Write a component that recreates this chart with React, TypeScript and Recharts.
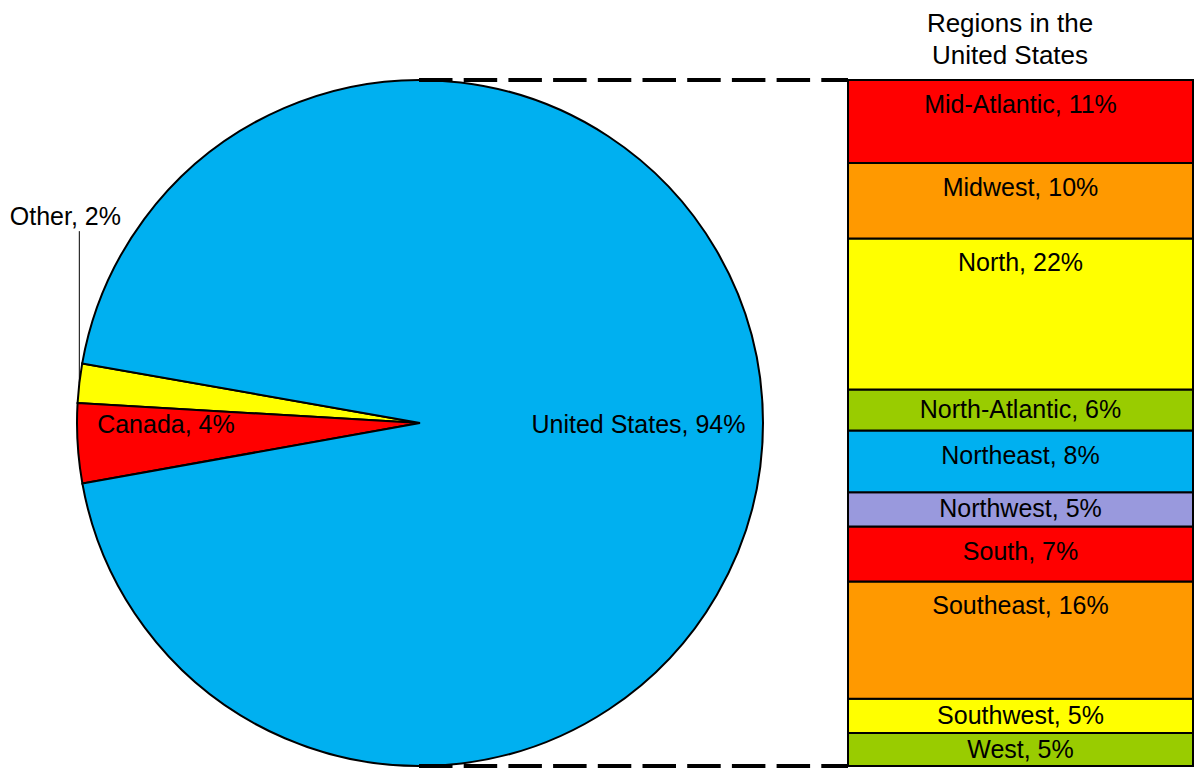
import { PieChart, Pie, Cell, BarChart, Bar, XAxis, YAxis, LabelList } from 'recharts'

const W = 1195
const H = 768
const FONT = '"Liberation Sans", Arial, sans-serif'

// main pie
const countries = ['Other', 'Canada', 'United States']
const countryShare = [1.85, 3.75, 94.4]
const countryLabel = ['2%', '4%', '94%']
const countryColors = ['#FFFF00', '#FF0000', '#00B0F0']

// breakdown of the US slice, listed top to bottom
const regions = [
  'Mid-Atlantic', 'Midwest', 'North', 'North-Atlantic', 'Northeast',
  'Northwest', 'South', 'Southeast', 'Southwest', 'West',
]
const regionShare = [12.1, 11.0, 22.0, 6.0, 9.0, 5.0, 8.0, 17.1, 5.0, 4.8]
const regionLabel = ['11%', '10%', '22%', '6%', '8%', '5%', '7%', '16%', '5%', '5%']
const regionColors = [
  '#FF0000', '#FF9900', '#FFFF00', '#99CC00', '#00B0F0',
  '#9999DD', '#FF0000', '#FF9900', '#FFFF00', '#99CC00',
]
const barTitle = ['Regions in the', 'United States']

// layout
const CX = 420
const CY = 423
const R = 343
const BAR_LEFT = 848
const BAR_TOP = 80
const BAR_BOTTOM = 766

const pieData = countries.map((name, i) => ({ name, value: countryShare[i] }))
const barRow: Record<string, number | string> = { cat: 'United States' }
regions.forEach((r, i) => { barRow[r] = regionShare[i] })
const barData = [barRow]

const RAD = Math.PI / 180

function pieLabel(props: any) {
  const { cx, cy, midAngle, outerRadius, index } = props
  const text = `${countries[index]}, ${countryLabel[index]}`
  const cos = Math.cos(-midAngle * RAD)
  const sin = Math.sin(-midAngle * RAD)
  if (countryShare[index] < 3) {
    // thin slice: label sits above, tied by a vertical leader
    const ex = cx + outerRadius * cos
    const ey = cy + outerRadius * sin
    return (
      <g>
        <line x1={ex} y1={ey} x2={ex} y2={ey - 152} stroke="#000" strokeWidth={1} />
        <text x={ex - 14} y={ey - 167} textAnchor="middle" dominantBaseline="central"
          fontSize={25} fontFamily={FONT} fill="#000">{text}</text>
      </g>
    )
  }
  const f = countryShare[index] > 50 ? 0.637 : 0.742
  return (
    <text x={cx + outerRadius * f * cos} y={cy + 1} textAnchor="middle" dominantBaseline="central"
      fontSize={25} fontFamily={FONT} fill="#000">{text}</text>
  )
}

function regionLabelContent(i: number) {
  return (p: any) => {
    const x = Number(p.x), y = Number(p.y), w = Number(p.width), h = Number(p.height)
    const top = Math.min(y, y + h)
    const dy = Math.min(24, Math.abs(h) / 2 - 1)
    return (
      <text x={x + w / 2} y={top + dy} textAnchor="middle" dominantBaseline="central"
        fontSize={25} fontFamily={FONT} fill="#000">
        {`${regions[i]}, ${regionLabel[i]}`}
      </text>
    )
  }
}

export default function App() {
  const order = regions.map((_, i) => i).reverse() // bottom of stack first
  return (
    <div style={{ position: 'absolute', left: 0, top: 0, width: W, height: H, background: '#fff' }}>
      <div style={{ position: 'absolute', left: 0, top: 0 }}>
        <PieChart width={W} height={H} margin={{ top: 0, right: 0, bottom: 0, left: 0 }}>
          <Pie
            data={pieData}
            dataKey="value"
            cx={CX}
            cy={CY}
            outerRadius={R}
            startAngle={170}
            endAngle={530}
            stroke="#000"
            strokeWidth={2}
            labelLine={false}
            label={pieLabel}
            isAnimationActive={false}
          >
            {pieData.map((d, i) => <Cell key={d.name} fill={countryColors[i]} />)}
          </Pie>
        </PieChart>
      </div>
      <div style={{ position: 'absolute', left: 0, top: 0 }}>
        <BarChart
          width={W}
          height={H}
          data={barData}
          margin={{ top: BAR_TOP, right: W - 1193, bottom: H - BAR_BOTTOM, left: BAR_LEFT }}
          barCategoryGap={0}
          barGap={0}
        >
          <XAxis dataKey="cat" hide />
          <YAxis hide domain={[0, 100]} />
          {order.map((i) => (
            <Bar key={regions[i]} dataKey={regions[i]} stackId="us" fill={regionColors[i]}
              stroke="#000" strokeWidth={2} isAnimationActive={false}>
              <LabelList dataKey={regions[i]} content={regionLabelContent(i)} />
            </Bar>
          ))}
        </BarChart>
      </div>
      <svg width={W} height={H} style={{ position: 'absolute', left: 0, top: 0, pointerEvents: 'none' }}>
        <line x1={CX - 1} y1={CY - R} x2={BAR_LEFT} y2={CY - R} stroke="#000" strokeWidth={4} strokeDasharray="33.5 11.2" />
        <line x1={CX - 1} y1={CY + R} x2={BAR_LEFT} y2={CY + R} stroke="#000" strokeWidth={4} strokeDasharray="33.5 11.2" />
        {barTitle.map((t, i) => (
          <text key={t} x={1010} y={32 + i * 32} textAnchor="middle" fontSize={26} fontFamily={FONT} fill="#000">{t}</text>
        ))}
      </svg>
    </div>
  )
}
